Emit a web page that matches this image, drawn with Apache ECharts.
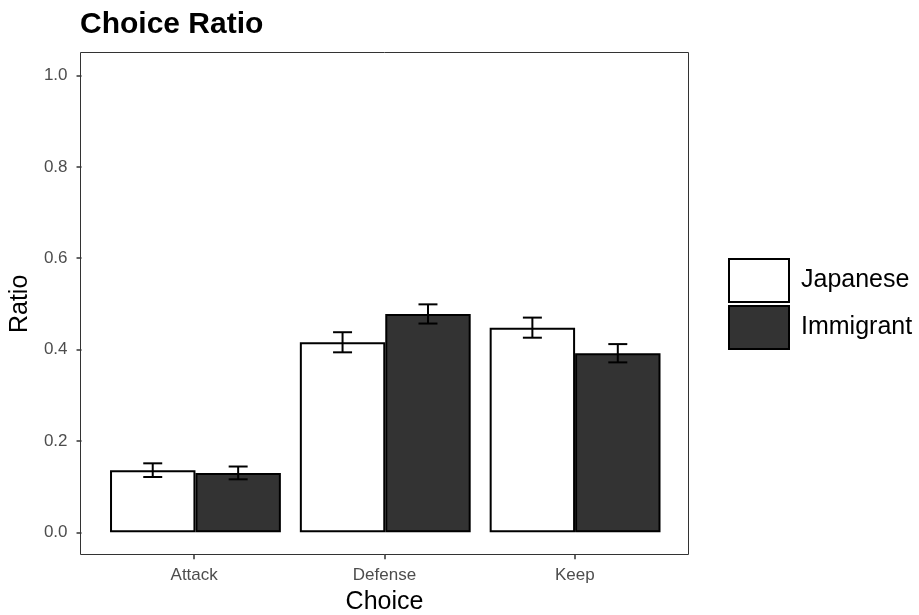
<!DOCTYPE html>
<html><head><meta charset="utf-8">
<script src="https://cdn.jsdelivr.net/npm/echarts@6/dist/echarts.min.js"></script>
<style>html,body{margin:0;padding:0;background:#fff}#c{width:919px;height:615px}</style>
</head><body><div id="c"></div>
<script>
const categories = ['Attack', 'Defense', 'Keep'];
const seriesNames = ['Japanese', 'Immigrant'];
const japanese = [0.136, 0.416, 0.448];
const immigrant = [0.130, 0.478, 0.392];
const japaneseErr = [0.015, 0.022, 0.022];
const immigrantErr = [0.014, 0.021, 0.020];

const FONT = 'Liberation Sans, Arial, Helvetica, sans-serif';
const chart = echarts.init(document.getElementById('c'), null, {renderer: 'canvas'});

function errSeries(vals, errs, side) {
  return {
    type: 'custom',
    z: 10,
    xAxisIndex: 0, yAxisIndex: 0,
    data: vals.map((v, i) => [i, v, errs[i]]),
    renderItem: function (params, api) {
      const band = api.size([1, 0])[0];
      const c = api.coord([api.value(0), api.value(1)]);
      const x = c[0] + side * band * 0.225;
      const top = api.coord([api.value(0), api.value(1) + api.value(2)])[1];
      const bot = api.coord([api.value(0), api.value(1) - api.value(2)])[1];
      const hw = band * 0.05;
      const st = {stroke: '#000', lineWidth: 2};
      return {type: 'group', children: [
        {type: 'line', shape: {x1: x, y1: top, x2: x, y2: bot}, style: st},
        {type: 'line', shape: {x1: x - hw, y1: top, x2: x + hw, y2: top}, style: st},
        {type: 'line', shape: {x1: x - hw, y1: bot, x2: x + hw, y2: bot}, style: st}
      ]};
    }
  };
}

chart.setOption({
  animation: false,
  backgroundColor: '#fff',
  title: {
    text: 'Choice Ratio', left: 80, top: 10, padding: 0,
    textStyle: {fontFamily: FONT, fontWeight: 'bold', fontSize: 30, color: '#000'}
  },
  legend: {
    orient: 'vertical', left: 728, top: 258, padding: 0,
    itemWidth: 60, itemHeight: 43, itemGap: 2,
    icon: 'rect',
    data: seriesNames,
    textStyle: {fontFamily: FONT, fontSize: 25, color: '#000', padding: [0, 0, 0, 7]}
  },
  grid: [
    {left: 99, right: 919 - 670, top: 75.5, bottom: 615 - 532.3},
    {left: 99, right: 919 - 670, top: 554, height: 1}
  ],
  xAxis: [
    {
      type: 'category', data: categories, gridIndex: 0,
      axisLine: {show: false}, axisTick: {show: false}, axisLabel: {show: false}
    },
    {
      type: 'category', data: categories, gridIndex: 1,
      name: 'Choice', nameLocation: 'middle', nameGap: 35,
      nameTextStyle: {fontFamily: FONT, fontSize: 25, color: '#000'},
      axisLine: {show: false},
      axisTick: {show: true, alignWithLabel: true, length: 5, lineStyle: {color: '#333', width: 1.5}},
      axisLabel: {fontFamily: FONT, fontSize: 17, color: '#4d4d4d', margin: 13}
    }
  ],
  yAxis: [
    {
      type: 'value', min: 0, max: 1, interval: 0.2, offset: 19, gridIndex: 0,
      name: 'Ratio', nameLocation: 'middle', nameGap: 46,
      nameTextStyle: {fontFamily: FONT, fontSize: 25, color: '#000'},
      axisLine: {show: false},
      splitLine: {show: false},
      axisTick: {show: true, length: 5, lineStyle: {color: '#333', width: 1.5}},
      axisLabel: {fontFamily: FONT, fontSize: 17, color: '#4d4d4d', margin: 14,
        formatter: v => v.toFixed(1)}
    },
    {
      type: 'value', gridIndex: 1, show: false
    }
  ],
  graphic: [{
    type: 'rect', z: 100, silent: true,
    shape: {x: 80.5, y: 52.5, width: 608, height: 502},
    style: {fill: 'none', stroke: '#333', lineWidth: 1}
  }],
  series: [
    {name: 'Japanese', type: 'bar', data: japanese, barWidth: '45%', barGap: '0%',
      xAxisIndex: 0, yAxisIndex: 0,
      itemStyle: {color: '#fff', borderColor: '#000', borderWidth: 2}},
    {name: 'Immigrant', type: 'bar', data: immigrant, barWidth: '45%', barGap: '0%',
      xAxisIndex: 0, yAxisIndex: 0,
      itemStyle: {color: '#333333', borderColor: '#000', borderWidth: 2}},
    errSeries(japanese, japaneseErr, -1),
    errSeries(immigrant, immigrantErr, 1)
  ]
});
</script></body></html>
